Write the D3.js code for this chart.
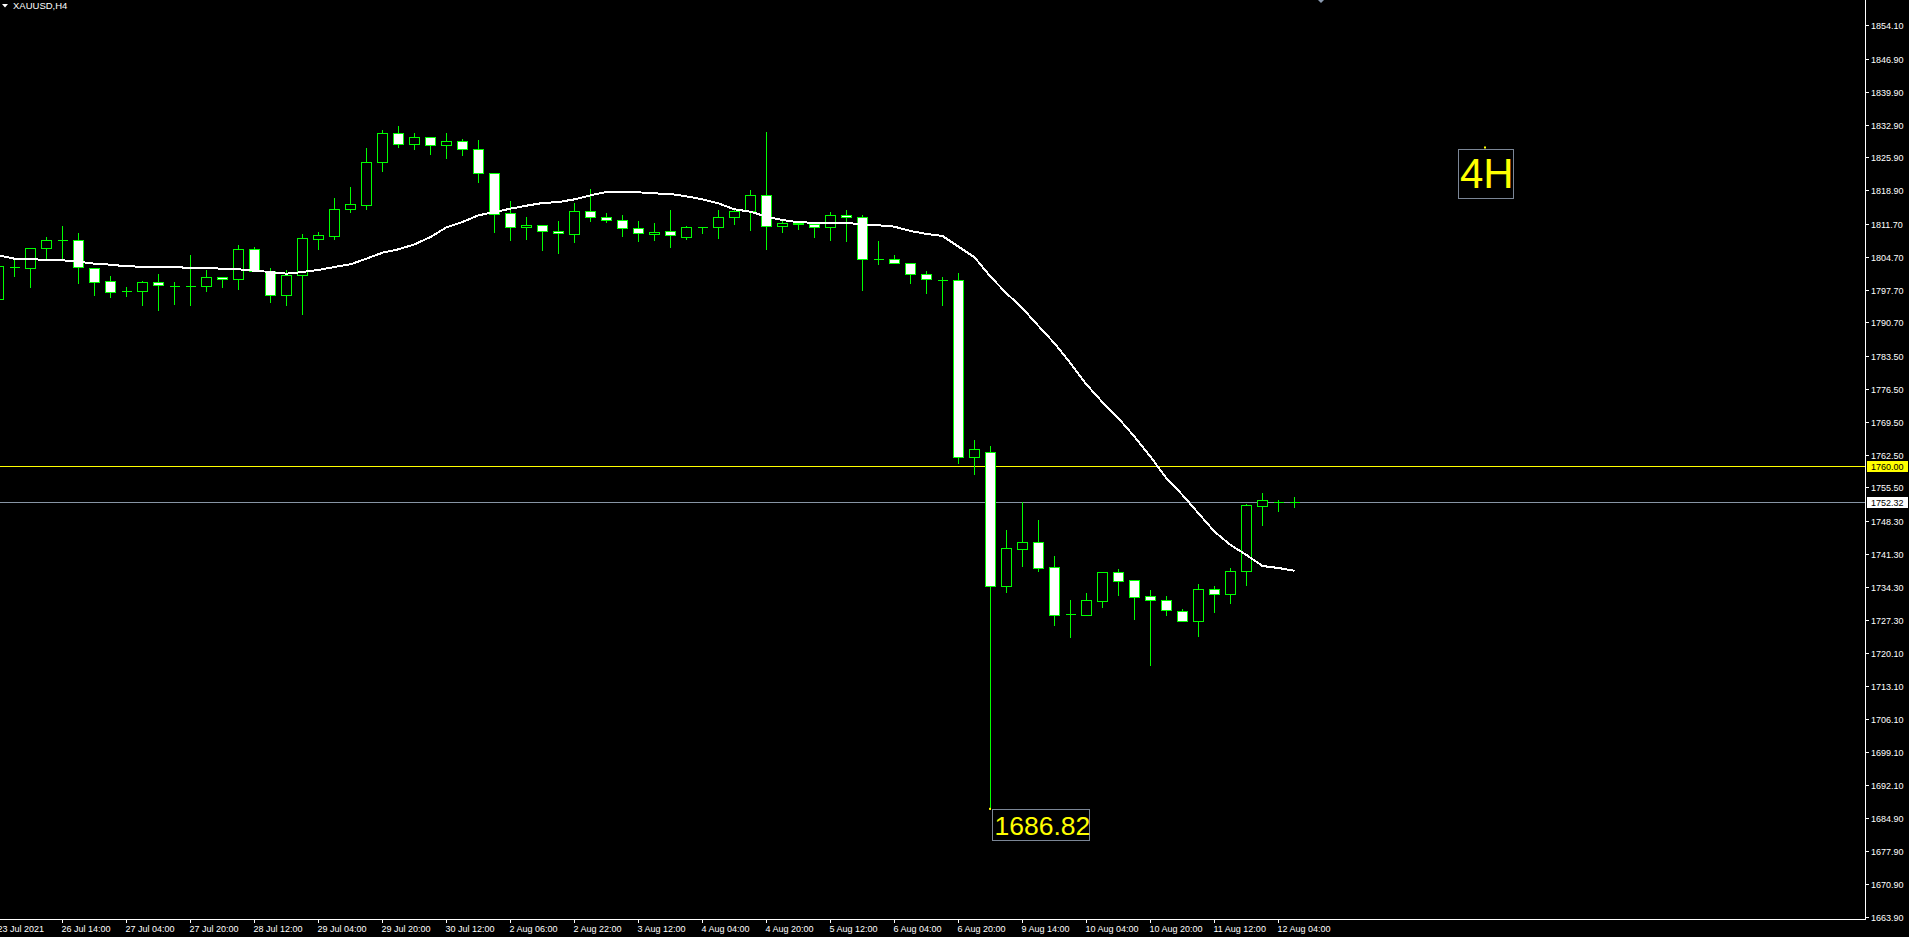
<!DOCTYPE html>
<html><head><meta charset="utf-8">
<script src="https://cdn.jsdelivr.net/npm/d3@7"></script>
<style>html,body{margin:0;padding:0;background:#000;overflow:hidden}</style>
</head><body>
<script>
// ---- DATA (XAUUSD H4) ----
const opens = [1795.62,1802.45,1802.23,1806.50,1808.21,1808.21,1802.23,1799.46,1797.40,1797.47,
1799.25,1798.55,1798.53,1798.53,1800.31,1799.89,1806.29,1801.73,1796.47,1800.88,
1808.56,1809.20,1814.96,1815.81,1824.85,1831.03,1828.69,1830.18,1828.47,1829.33,
1827.62,1822.50,1813.97,1810.98,1811.41,1810.13,1809.49,1814.39,1813.11,1812.47,
1810.77,1809.49,1810.13,1808.99,1810.98,1810.98,1813.11,1814.39,1817.81,1811.19,
1811.83,1811.62,1810.98,1813.54,1813.11,1804.29,1804.29,1803.30,1800.95,1799.81,
1799.67,1761.91,1762.98,1734.54,1742.29,1743.78,1738.45,1728.42,1728.35,1731.33,
1737.38,1735.67,1732.26,1731.41,1729.06,1726.93,1733.75,1732.69,1737.59,1751.46,
1752.45,1752.31];
const highs = [1803.20,1804.65,1806.78,1809.13,1811.48,1809.98,1802.59,1800.81,1798.46,1799.74,
1801.24,1799.53,1805.29,1802.16,1800.60,1807.42,1807.00,1802.52,1802.09,1809.77,
1810.20,1817.45,1819.80,1828.12,1831.96,1832.81,1831.32,1830.46,1831.32,1830.04,
1829.82,1822.50,1816.81,1813.40,1811.41,1812.54,1816.38,1819.37,1814.18,1813.82,
1812.54,1812.12,1814.89,1811.41,1811.26,1814.89,1815.03,1819.16,1831.53,1812.90,
1812.54,1812.05,1814.46,1814.89,1813.82,1808.28,1805.29,1803.65,1801.88,1800.60,
1801.45,1765.82,1764.54,1746.62,1752.60,1748.76,1741.08,1731.69,1733.18,1737.38,
1738.30,1735.67,1733.82,1732.54,1729.77,1735.10,1734.68,1738.52,1752.17,1754.52,
1753.02,1753.66];
const lows = [1794.90,1800.67,1798.32,1804.22,1804.51,1799.17,1796.61,1796.19,1796.40,1794.48,
1793.41,1794.69,1794.48,1797.47,1798.32,1797.89,1801.59,1795.12,1794.48,1792.56,
1806.43,1808.56,1814.32,1814.96,1823.07,1828.19,1827.76,1826.69,1825.84,1826.48,
1820.72,1810.05,1808.35,1808.56,1806.21,1805.57,1807.92,1812.40,1812.19,1809.20,
1808.13,1808.35,1806.85,1808.56,1809.84,1808.77,1811.76,1810.48,1806.43,1810.05,
1810.69,1808.99,1808.35,1808.13,1797.68,1803.23,1803.30,1799.17,1797.04,1794.48,
1760.60,1758.43,1686.82,1733.25,1738.80,1737.66,1726.14,1723.65,1728.35,1729.98,
1732.54,1727.49,1717.61,1728.28,1726.93,1723.87,1728.99,1730.91,1734.75,1747.55,
1750.53,1751.39];
const closes = [1802.73,1802.55,1806.50,1808.21,1808.25,1802.45,1799.39,1797.25,1797.38,1799.25,
1798.61,1798.53,1798.55,1800.31,1799.89,1806.29,1801.73,1796.47,1800.88,1808.63,
1809.27,1814.82,1815.89,1824.85,1831.03,1828.69,1830.18,1828.47,1829.33,1827.62,
1822.50,1813.75,1810.98,1811.41,1810.13,1809.70,1814.39,1813.11,1812.47,1810.77,
1809.70,1809.91,1809.27,1810.98,1811.00,1813.11,1814.39,1817.81,1811.19,1811.83,
1811.62,1810.98,1813.54,1813.11,1804.15,1804.25,1803.30,1800.95,1799.89,1799.78,
1761.91,1763.62,1734.54,1742.50,1743.78,1738.37,1728.35,1728.40,1731.41,1737.38,
1735.60,1732.19,1731.41,1729.27,1726.93,1733.75,1732.69,1737.59,1751.67,1752.74,
1752.47,1752.32];
const maValues = [1805.01,1804.29,1804.22,1804.01,1803.94,1803.65,1803.23,1803.01,1802.66,1802.59,
1802.59,1802.45,1802.37,1802.30,1802.16,1802.02,1801.73,1801.45,1801.09,1801.45,
1801.88,1802.52,1803.09,1804.29,1805.57,1806.29,1807.35,1808.92,1810.98,1812.12,
1813.54,1814.25,1814.96,1815.60,1816.17,1816.38,1816.95,1817.81,1818.52,1818.59,
1818.45,1818.23,1818.09,1817.59,1816.95,1816.10,1814.82,1814.32,1813.25,1812.54,
1812.05,1811.97,1811.97,1811.97,1811.55,1811.41,1811.12,1810.20,1809.56,1809.13,
1806.85,1804.59,1800.45,1796.91,1793.71,1789.93,1786.24,1781.97,1777.45,1773.67,
1770.23,1766.32,1762.05,1757.43,1753.88,1749.97,1746.05,1743.21,1741.08,1738.73,
1738.30,1737.73];
const priceTicks = ["1854.10","1846.90","1839.90","1832.90","1825.90","1818.90","1811.70","1804.70",
"1797.70","1790.70","1783.50","1776.50","1769.50","1762.50","1755.50","1748.30","1741.30","1734.30",
"1727.30","1720.10","1713.10","1706.10","1699.10","1692.10","1684.90","1677.90","1670.90","1663.90"];
const timeLabels = ["23 Jul 2021","26 Jul 14:00","27 Jul 04:00","27 Jul 20:00","28 Jul 12:00",
"29 Jul 04:00","29 Jul 20:00","30 Jul 12:00","2 Aug 06:00","2 Aug 22:00","3 Aug 12:00",
"4 Aug 04:00","4 Aug 20:00","5 Aug 12:00","6 Aug 04:00","6 Aug 20:00","9 Aug 14:00",
"10 Aug 04:00","10 Aug 20:00","11 Aug 12:00","12 Aug 04:00"];
const labelEvery = 4;
const levelPrice = 1760.00;
const bidPrice = 1752.32;
const crashLow = 1686.82;
const crashIndex = 62;
const symbolTitle = "XAUUSD,H4";
const tfLabel = "4H";

// ---- LAYOUT ----
const W = 1909, H = 937, plotRight = 1865, plotBottom = 919;
const FONT = "'Liberation Sans', Arial, sans-serif";
const GREEN = "#00ff00";

const svg = d3.select("body").append("svg")
  .attr("width", W).attr("height", H)
  .style("background", "#000").style("display", "block");

const x = d3.scaleLinear().domain([0, opens.length - 1]).range([-1.5, -1.5 + 16 * (opens.length - 1)]);
const y = d3.scaleLinear().domain([1663.424, 1859.477]).range([plotBottom, 0]);
const yp = v => Math.round(y(v)) + 0.5;

const plot = svg.append("g");

// horizontal level lines
plot.append("line").attr("x1", 0).attr("x2", plotRight).attr("y1", yp(levelPrice)).attr("y2", yp(levelPrice))
  .attr("stroke", "#ffff00").attr("stroke-width", 1).attr("shape-rendering", "crispEdges");
plot.append("line").attr("x1", 0).attr("x2", plotRight).attr("y1", yp(bidPrice)).attr("y2", yp(bidPrice))
  .attr("stroke", "#8795a5").attr("stroke-width", 1).attr("shape-rendering", "crispEdges");

// candles
const data = opens.map((o, i) => ({i, o, h: highs[i], l: lows[i], c: closes[i]}));
const cg = plot.append("g").attr("shape-rendering", "crispEdges");
const candle = cg.selectAll("g.c").data(data).join("g").attr("class", "c");
candle.append("line")
  .attr("x1", d => x(d.i)).attr("x2", d => x(d.i))
  .attr("y1", d => yp(d.h)).attr("y2", d => yp(d.l))
  .attr("stroke", GREEN).attr("stroke-width", 1);
candle.each(function(d) {
  const g = d3.select(this);
  const top = yp(Math.max(d.o, d.c)), bot = yp(Math.min(d.o, d.c));
  if (bot - top < 1) {
    g.append("line").attr("x1", x(d.i) - 5).attr("x2", x(d.i) + 5)
      .attr("y1", top).attr("y2", top).attr("stroke", GREEN).attr("stroke-width", 1);
  } else {
    g.append("rect").attr("x", x(d.i) - 5).attr("y", top)
      .attr("width", 10).attr("height", bot - top)
      .attr("fill", d.c >= d.o ? "#000" : "#fff")
      .attr("stroke", GREEN).attr("stroke-width", 1);
  }
});

// moving average
const maLine = d3.line().x((d, i) => x(i)).y(d => y(d));
plot.append("path").datum(maValues).attr("d", maLine)
  .attr("fill", "none").attr("stroke", "#fff").attr("stroke-width", 2)
  .attr("shape-rendering", "crispEdges");

// crash low label
const cx = x(crashIndex), cy = y(crashLow);
plot.append("rect").attr("x", cx - 1.5).attr("y", cy - 1.5).attr("width", 2).attr("height", 2).attr("fill", "#ffff00");
plot.append("rect").attr("x", Math.round(cx) + 1.5).attr("y", Math.round(cy) + 0.5)
  .attr("width", 97).attr("height", 31).attr("fill", "none").attr("stroke", "#7b8696").attr("stroke-width", 1)
  .attr("shape-rendering", "crispEdges");
plot.append("text").attr("x", Math.round(cx) + 3.5).attr("y", Math.round(cy) + 26)
  .attr("fill", "#ffff00").attr("font-family", FONT).attr("font-size", 26.5)
  .text(crashLow.toFixed(2));

// 4H label
plot.append("rect").attr("x", 1458.5).attr("y", 149.5).attr("width", 55).attr("height", 49)
  .attr("fill", "none").attr("stroke", "#7b8696").attr("stroke-width", 1).attr("shape-rendering", "crispEdges");
plot.append("rect").attr("x", 1484).attr("y", 146.5).attr("width", 2).attr("height", 2).attr("fill", "#ffff00");
plot.append("text").attr("x", 1460).attr("y", 188).attr("fill", "#ffff00")
  .attr("font-family", FONT).attr("font-size", 42).text(tfLabel);

// top marker
svg.append("path").attr("d", "M1318,0 L1324,0 L1321,3 Z").attr("fill", "#8a9ab0");

// title
svg.append("path").attr("d", "M2,4 L8,4 L5,7.5 Z").attr("fill", "#fff");
svg.append("text").attr("x", 13).attr("y", 9).attr("fill", "#fff")
  .attr("font-family", FONT).attr("font-size", 9.5).text(symbolTitle);

// axes frame
const ax = svg.append("g").attr("shape-rendering", "crispEdges");
ax.append("line").attr("x1", plotRight + 0.5).attr("x2", plotRight + 0.5).attr("y1", 0).attr("y2", plotBottom + 1)
  .attr("stroke", "#fff");
ax.append("line").attr("x1", 0).attr("x2", plotRight + 1).attr("y1", plotBottom + 0.5).attr("y2", plotBottom + 0.5)
  .attr("stroke", "#fff");

// price axis
priceTicks.forEach(t => {
  const v = parseFloat(t), ty = yp(v);
  ax.append("line").attr("x1", plotRight + 1).attr("x2", plotRight + 4).attr("y1", ty).attr("y2", ty).attr("stroke", "#fff");
  ax.append("text").attr("x", plotRight + 6).attr("y", ty + 3.3).attr("fill", "#fff")
    .attr("font-family", FONT).attr("font-size", 9).text(t);
});
// level label boxes
[[levelPrice, "#ffff00"], [bidPrice, "#ffffff"]].forEach(([v, bg]) => {
  const ty = Math.round(y(v));
  ax.append("rect").attr("x", plotRight + 1.5).attr("y", ty - 5.5).attr("width", 41).attr("height", 11)
    .attr("fill", bg);
  ax.append("text").attr("x", plotRight + 6).attr("y", ty + 3.5).attr("fill", "#000")
    .attr("font-family", FONT).attr("font-size", 9).text(v.toFixed(2));
});

// time axis
timeLabels.forEach((t, k) => {
  const tx = x(k * labelEvery);
  ax.append("line").attr("x1", tx).attr("x2", tx).attr("y1", plotBottom + 1).attr("y2", plotBottom + 4).attr("stroke", "#fff");
  ax.append("text").attr("x", tx - 1).attr("y", 932).attr("fill", "#fff")
    .attr("font-family", FONT).attr("font-size", 9).text(t);
});
</script>
</body></html>
